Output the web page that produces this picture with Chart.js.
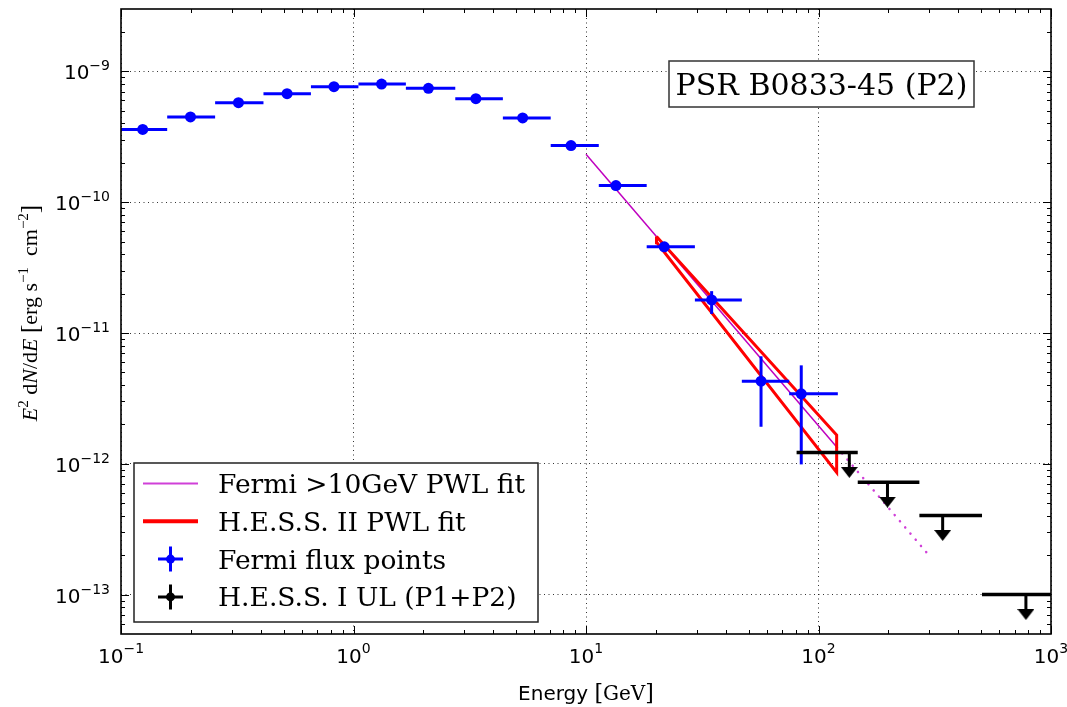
<!DOCTYPE html>
<html>
<head>
<meta charset="utf-8">
<script src="https://cdn.jsdelivr.net/npm/chart.js@4.4.0/dist/chart.umd.min.js"></script>
<style>
html,body{margin:0;padding:0;background:#fff;}
#wrap{width:1067px;height:707px;position:relative;}
</style>
</head>
<body>
<div id="wrap"><canvas id="c" width="1067" height="707"></canvas></div>
<script>
// ---------------- data ----------------
const fermiE      = [0.124, 0.199, 0.320, 0.518, 0.824, 1.32, 2.10, 3.36, 5.34, 8.62, 13.45, 21.7, 34.7, 56.6, 84.3];
const fermiEmin   = [0.0982, 0.158, 0.254, 0.410, 0.656, 1.05, 1.68, 2.74, 4.39, 7.05, 11.35, 18.24, 29.4, 46.8, 74.8];
const fermiEmax   = [0.158, 0.254, 0.410, 0.656, 1.05, 1.68, 2.74, 4.39, 7.05, 11.35, 18.24, 29.4, 46.8, 74.8, 121.1];
const fermiFlux   = [3.60e-10, 4.49e-10, 5.77e-10, 6.76e-10, 7.64e-10, 8.00e-10, 7.42e-10, 6.19e-10, 4.41e-10, 2.71e-10, 1.34e-10, 4.56e-11, 1.79e-11, 4.28e-12, 3.43e-12];
const fermiFluxLo = [3.50e-10, 4.38e-10, 5.65e-10, 6.63e-10, 7.50e-10, 7.85e-10, 7.28e-10, 6.06e-10, 4.30e-10, 2.63e-10, 1.29e-10, 4.30e-11, 1.40e-11, 1.92e-12, 9.9e-13];
const fermiFluxHi = [3.70e-10, 4.60e-10, 5.89e-10, 6.89e-10, 7.78e-10, 8.15e-10, 7.56e-10, 6.32e-10, 4.52e-10, 2.79e-10, 1.39e-10, 4.84e-11, 2.09e-11, 6.64e-12, 5.66e-12];

const fermiFitE      = [10, 120];
const fermiFitFlux   = [2.33e-10, 1.34e-12];
const fermiExtE      = [120, 295];
const fermiExtFlux   = [1.34e-12, 2.05e-13];

const hessBowtieE    = [20.1, 119.7, 119.7, 20.2, 20.1];
const hessBowtieFlux = [5.46e-11, 1.66e-12, 8.61e-13, 4.89e-11, 5.46e-11];

const hessUlE    = [135.7, 198, 342, 780];
const hessUlEmin = [80.5, 147.5, 271.6, 505];
const hessUlEmax = [147.5, 271.6, 505, 1000];
const hessUlFlux = [1.22e-12, 7.23e-13, 4.02e-13, 1.00e-13];

const xTickValues = [0.1, 1, 10, 100, 1000];
const xTickExps   = ['\u22121', '0', '1', '2', '3'];
const yTickValues = [1e-13, 1e-12, 1e-11, 1e-10, 1e-9];
const yTickExps   = ['\u221213', '\u221212', '\u221211', '\u221210', '\u22129'];

const legendLabels = ['Fermi >10GeV PWL fit', 'H.E.S.S. II PWL fit', 'Fermi flux points', 'H.E.S.S. I UL (P1+P2)'];
const titleText = 'PSR B0833-45 (P2)';

// ---------------- styles ----------------
const BLUE = '#0000ff', RED = '#ff0000', MAG = '#bf00bf', MAGDOT = '#d040d8', BLACK = '#000000';
const UL_ARROW_DECADES = 0.152; // arrow length in decades (style)

const caret = (() => {
  const c = document.createElement('canvas'); c.width = 17; c.height = 11;
  const g = c.getContext('2d'); g.fillStyle = '#000';
  g.beginPath(); g.moveTo(0, 0); g.lineTo(17, 0); g.lineTo(8.5, 11); g.closePath(); g.fill();
  return c;
})();

function seg(points, color, width, order, extra) {
  return Object.assign({
    data: points.map(p => ({x: p[0], y: p[1]})),
    showLine: true, borderColor: color, backgroundColor: color, borderWidth: width,
    pointRadius: 0, pointHoverRadius: 0, order: order, fill: false, tension: 0
  }, extra || {});
}

const datasets = [];
// magenta fit (solid) and its extrapolation (dotted)
datasets.push(seg(fermiFitE.map((e, i) => [e, fermiFitFlux[i]]), MAG, 1.5, 5));
datasets.push(seg(fermiExtE.map((e, i) => [e, fermiExtFlux[i]]), MAGDOT, 2.5, 5, {borderDash: [0.1, 8], borderCapStyle: 'round'}));
// HESS II bowtie
datasets.push(seg(hessBowtieE.map((e, i) => [e, hessBowtieFlux[i]]), RED, 3, 4, {borderJoinStyle: 'miter'}));
// Fermi error bars
fermiE.forEach((e, i) => {
  datasets.push(seg([[fermiEmin[i], fermiFlux[i]], [fermiEmax[i], fermiFlux[i]]], BLUE, 3, 3));
  datasets.push(seg([[e, fermiFluxLo[i]], [e, fermiFluxHi[i]]], BLUE, 3, 3));
});
// Fermi points
datasets.push({
  data: fermiE.map((e, i) => ({x: e, y: fermiFlux[i]})),
  showLine: false, pointRadius: 5.5, pointHoverRadius: 5.5, pointBackgroundColor: BLUE,
  pointBorderColor: BLUE, pointBorderWidth: 0, order: 2
});
// HESS I upper limits
hessUlE.forEach((e, i) => {
  const yEnd = hessUlFlux[i] * Math.pow(10, -UL_ARROW_DECADES);
  datasets.push(seg([[hessUlEmin[i], hessUlFlux[i]], [hessUlEmax[i], hessUlFlux[i]]], BLACK, 3.5, 1));
  datasets.push(seg([[e, hessUlFlux[i]], [e, yEnd]], BLACK, 3, 1));
});
datasets.push({
  data: hessUlE.map((e, i) => ({x: e, y: hessUlFlux[i] * Math.pow(10, -UL_ARROW_DECADES)})),
  showLine: false, pointStyle: caret, pointRadius: 8, pointHoverRadius: 8, order: 0
});

// ---------------- helpers for text ----------------
function drawPieces(ctx, pieces, x, y, align) {
  let total = 0;
  pieces.forEach(p => { ctx.font = p[1]; p.w = ctx.measureText(p[0]).width; total += p.w; });
  let cx = align === 'center' ? x - total / 2 : (align === 'right' ? x - total : x);
  pieces.forEach(p => { ctx.font = p[1]; ctx.fillText(p[0], cx, y + (p[2] || 0)); cx += p.w; });
  return total;
}

const overlay = {
  id: 'overlay',
  afterDraw(chart) {
    const ctx = chart.ctx, ca = chart.chartArea;
    const xs = chart.scales.x, ys = chart.scales.y;
    ctx.save();
    ctx.fillStyle = '#000'; ctx.strokeStyle = '#000';
    ctx.textBaseline = 'alphabetic'; ctx.textAlign = 'left';

    // tick marks (inward) on all four sides
    ctx.lineWidth = 1;
    const xMinor = [], yMinor = [];
    for (let d = -2; d <= 3; d++) for (let m = 2; m <= 9; m++) { const v = m * Math.pow(10, d); if (v > xs.min && v < xs.max) xMinor.push(v); }
    for (let d = -14; d <= -9; d++) for (let m = 2; m <= 9; m++) { const v = m * Math.pow(10, d); if (v > ys.min * 1.0001 && v < ys.max * 0.9999) yMinor.push(v); }
    ctx.beginPath();
    const xt = (v, len) => { const px = Math.round(xs.getPixelForValue(v)) + 0.5; ctx.moveTo(px, ca.bottom); ctx.lineTo(px, ca.bottom - len); ctx.moveTo(px, ca.top); ctx.lineTo(px, ca.top + len); };
    const yt = (v, len) => { const py = Math.round(ys.getPixelForValue(v)) + 0.5; ctx.moveTo(ca.left, py); ctx.lineTo(ca.left + len, py); ctx.moveTo(ca.right, py); ctx.lineTo(ca.right - len, py); };
    xTickValues.forEach(v => xt(v, 8)); xMinor.forEach(v => xt(v, 4));
    yTickValues.forEach(v => yt(v, 8)); yMinor.forEach(v => yt(v, 4));
    ctx.stroke();

    // frame
    ctx.lineWidth = 1.6;
    ctx.strokeRect(ca.left, ca.top, ca.right - ca.left, ca.bottom - ca.top);

    // tick labels
    xTickValues.forEach((v, i) => {
      const px = xs.getPixelForValue(v);
      drawPieces(ctx, [['10', '20px "DejaVu Sans"', 0], [xTickExps[i], '14px "DejaVu Sans"', -10]], px, ca.bottom + 29, 'center');
    });
    yTickValues.forEach((v, i) => {
      const py = ys.getPixelForValue(v);
      drawPieces(ctx, [['10', '20px "DejaVu Sans"', 0], [yTickExps[i], '14px "DejaVu Sans"', -9]], ca.left - 11, py + 8, 'right');
    });

    // x axis title
    drawPieces(ctx, [['Energy ', '20px "DejaVu Sans"'], ['[', '22px "DejaVu Serif"'], ['GeV', '20px "DejaVu Serif"'], [']', '22px "DejaVu Serif"']],
      (ca.left + ca.right) / 2, 700, 'center');

    // y axis title (rotated)
    ctx.save();
    ctx.translate(37, 313); ctx.rotate(-Math.PI / 2);
    drawPieces(ctx, [
      ['E', 'italic 22px "Liberation Serif"', 0], ['2', '15px "Liberation Serif"', -9],
      [' d', '22px "Liberation Serif"', 0], ['N', 'italic 22px "Liberation Serif"', 0],
      ['/d', '22px "Liberation Serif"', 0], ['E', 'italic 22px "Liberation Serif"', 0],
      [' ', '22px "Liberation Serif"', 0], ['[', '25px "Liberation Serif"', 1],
      ['erg s', '22px "Liberation Serif"', 0], ['\u22121', '15px "Liberation Serif"', -9],
      ['  cm', '22px "Liberation Serif"', 0], ['\u22122', '15px "Liberation Serif"', -9],
      [']', '25px "Liberation Serif"', 1]
    ], 0, 0, 'center');
    ctx.restore();

    // title box
    const bx = ca.right - 382, by = ca.top + 52, bw = 305, bh = 46;
    ctx.fillStyle = '#fff'; ctx.fillRect(bx, by, bw, bh);
    ctx.strokeStyle = '#333'; ctx.lineWidth = 1.5; ctx.strokeRect(bx, by, bw, bh);
    ctx.fillStyle = '#000';
    ctx.font = '30px "DejaVu Serif"'; ctx.textAlign = 'center';
    ctx.fillText(titleText, bx + bw / 2, by + bh / 2 + 11);
    ctx.textAlign = 'left';

    // legend
    const L = ca.left + 13, B = ca.bottom - 12, T = B - 159, R = L + 404;
    ctx.fillStyle = '#fff'; ctx.fillRect(L, T, R - L, B - T);
    ctx.strokeStyle = '#222'; ctx.lineWidth = 1.5; ctx.strokeRect(L, T, R - L, B - T);
    const rows = [0, 1, 2, 3].map(i => T + 20.5 + 37.8 * i);
    ctx.lineCap = 'butt';
    ctx.strokeStyle = MAGDOT; ctx.lineWidth = 1.8;
    ctx.beginPath(); ctx.moveTo(L + 9, rows[0]); ctx.lineTo(L + 64, rows[0]); ctx.stroke();
    ctx.strokeStyle = RED; ctx.lineWidth = 4;
    ctx.beginPath(); ctx.moveTo(L + 9, rows[1]); ctx.lineTo(L + 64, rows[1]); ctx.stroke();
    [[BLUE, rows[2]], [BLACK, rows[3]]].forEach(([col, ry]) => {
      const cx = L + 36.5;
      ctx.strokeStyle = col; ctx.fillStyle = col; ctx.lineWidth = 3;
      ctx.beginPath(); ctx.moveTo(cx - 12.5, ry); ctx.lineTo(cx + 12.5, ry);
      ctx.moveTo(cx, ry - 12.5); ctx.lineTo(cx, ry + 12.5); ctx.stroke();
      ctx.beginPath(); ctx.arc(cx, ry, 4.5, 0, Math.PI * 2); ctx.fill();
    });
    ctx.fillStyle = '#000'; ctx.font = '26.5px "DejaVu Serif"';
    legendLabels.forEach((t, i) => ctx.fillText(t, L + 84, rows[i] + 9.5));
    ctx.restore();
  }
};

new Chart(document.getElementById('c'), {
  type: 'scatter',
  data: {datasets: datasets},
  options: {
    responsive: false, animation: false, devicePixelRatio: 1, events: [],
    layout: {padding: {left: 0, right: 16, top: 9, bottom: 0}},
    plugins: {legend: {display: false}, tooltip: {enabled: false}},
    scales: {
      x: {
        type: 'logarithmic', min: 0.1, max: 1000,
        afterBuildTicks: s => { s.ticks = xTickValues.map(v => ({value: v})); },
        afterFit: s => { s.height = 73; },
        ticks: {display: false},
        grid: {color: '#000', lineWidth: 0.8, drawTicks: false},
        border: {display: false, dash: [1, 3.5]}
      },
      y: {
        type: 'logarithmic', min: 5e-14, max: 3e-9,
        afterBuildTicks: s => { s.ticks = yTickValues.map(v => ({value: v})); },
        afterFit: s => { s.width = 121; },
        ticks: {display: false},
        grid: {color: '#000', lineWidth: 0.8, drawTicks: false},
        border: {display: false, dash: [1, 3.5]}
      }
    }
  },
  plugins: [overlay]
});
</script>
</body>
</html>
